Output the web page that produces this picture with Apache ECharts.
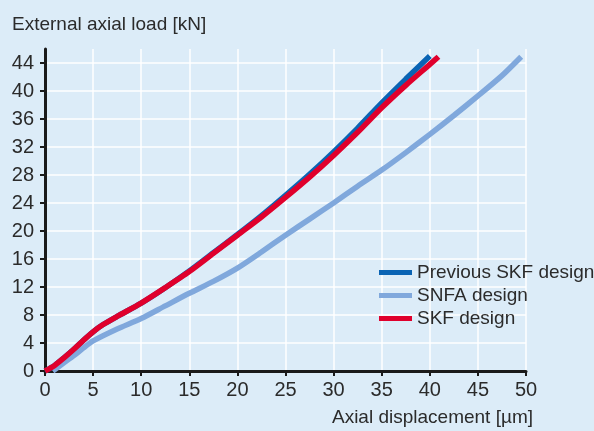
<!DOCTYPE html>
<html>
<head>
<meta charset="utf-8">
<script src="https://cdn.jsdelivr.net/npm/echarts@6/dist/echarts.min.js"></script>
<style>
  html, body { margin: 0; padding: 0; background: #dcecf8; }
  #main { width: 594px; height: 431px; }
</style>
</head>
<body>
<div id="main"></div>
<script>
// axial displacement [µm] / load [kN]
var prevDisp = [0, 1, 2, 3, 4, 5, 6, 7.5, 10, 12.5, 15, 17.5, 20, 22.5, 25, 27.5, 30, 32.5, 35, 37.5, 40];
var prevLoad = [0, 0.8, 1.9, 3.1, 4.4, 5.6, 6.6, 7.8, 9.7, 11.9, 14.3, 16.9, 19.5, 22.2, 25.1, 28.1, 31.3, 34.7, 38.3, 41.7, 45.0];

var snfaDisp = [0.8, 2, 3, 4, 5, 7.5, 10, 12.5, 15, 17.5, 20, 22.5, 25, 27.5, 30, 32.5, 35, 37.5, 40, 42.5, 45, 47.5, 49.5];
var snfaLoad = [0, 1.2, 2.2, 3.3, 4.3, 6.0, 7.5, 9.3, 11.1, 12.8, 14.7, 17.0, 19.4, 21.7, 24.0, 26.4, 28.7, 31.2, 33.8, 36.5, 39.3, 42.2, 44.9];

var skfDisp = [0, 1, 2, 3, 4, 5, 6, 7.5, 10, 12.5, 15, 17.5, 20, 22.5, 25, 27.5, 30, 32.5, 35, 37.5, 40, 40.9];
var skfLoad = [0, 0.8, 1.9, 3.1, 4.4, 5.6, 6.6, 7.8, 9.7, 11.9, 14.2, 16.8, 19.4, 22.0, 24.8, 27.7, 30.8, 34.1, 37.6, 40.8, 43.8, 44.9];

var loadTicks = [0, 4, 8, 12, 16, 20, 24, 28, 32, 36, 40, 44];

function pairs(xs, ys) {
    var out = [];
    for (var i = 0; i < xs.length; i++) out.push([xs[i], ys[i]]);
    return out;
}

var font = 'Liberation Sans';
var myChart = echarts.init(document.getElementById('main'));

var option = {
    backgroundColor: '#dcecf8',
    animation: false,
    grid: { left: 45, right: 68, top: 49, bottom: 60 },
    legend: {
        orient: 'vertical',
        left: 374,
        top: 258,
        itemWidth: 33,
        itemHeight: 5,
        itemGap: 4,
        icon: 'rect',
        textStyle: { fontFamily: font, fontSize: 19, color: '#2b2b2b' },
        data: ['Previous SKF design', 'SNFA design', 'SKF design']
    },
    xAxis: {
        type: 'value',
        min: 0, max: 50, interval: 5,
        name: 'Axial displacement [µm]',
        nameLocation: 'end',
        nameGap: 7,
        nameTextStyle: {
            fontFamily: font, fontSize: 19, color: '#2b2b2b',
            align: 'right', verticalAlign: 'top', padding: [37, 0, 0, 0]
        },
        axisLine: { lineStyle: { color: '#1a1a1a', width: 3 } },
        axisTick: { length: 5, lineStyle: { color: '#1a1a1a', width: 2 } },
        axisLabel: { fontFamily: font, fontSize: 20, color: '#2b2b2b', margin: 9 },
        splitLine: { lineStyle: { color: '#ffffff', width: 1.5 } }
    },
    yAxis: {
        type: 'value',
        min: 0, max: 46, interval: 4,
        name: 'External axial load [kN]',
        nameLocation: 'end',
        nameGap: 24,
        nameTextStyle: {
            fontFamily: font, fontSize: 19, color: '#2b2b2b',
            align: 'left', verticalAlign: 'middle', padding: [0, 0, 0, -33]
        },
        axisLine: { show: true, lineStyle: { color: '#1a1a1a', width: 3 } },
        axisTick: { length: 5, customValues: loadTicks, lineStyle: { color: '#1a1a1a', width: 2 } },
        axisLabel: { fontFamily: font, fontSize: 20, color: '#2b2b2b', margin: 11, customValues: loadTicks },
        splitLine: { lineStyle: { color: '#ffffff', width: 1.5 } }
    },
    series: [
        {
            name: 'Previous SKF design',
            type: 'line',
            data: pairs(prevDisp, prevLoad),
            showSymbol: false,
            smooth: 0.25,
            color: '#0a64b4',
            lineStyle: { width: 5.5 }
        },
        {
            name: 'SNFA design',
            type: 'line',
            data: pairs(snfaDisp, snfaLoad),
            showSymbol: false,
            smooth: 0.25,
            color: '#80a8dc',
            lineStyle: { width: 5.5 }
        },
        {
            name: 'SKF design',
            type: 'line',
            data: pairs(skfDisp, skfLoad),
            showSymbol: false,
            smooth: 0.25,
            color: '#e0002c',
            lineStyle: { width: 5.5 }
        }
    ]
};

myChart.setOption(option);
</script>
</body>
</html>
